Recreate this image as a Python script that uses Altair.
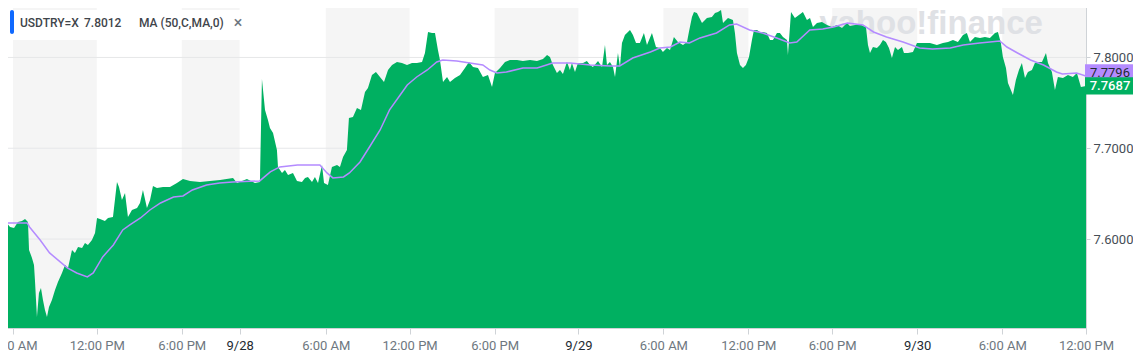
import altair as alt
import pandas as pd

# ---- data ----
area_bar = [0, 4.2, 8.5, 11.9, 15.2, 18.6, 21.2, 23.7, 24.6, 27.1, 28.8, 29.6, 31.3, 33.0, 34.7, 36.4, 38.1, 39.8,
            41.5, 44.0, 46.6, 49.1, 52.5, 55.1, 57.6, 61.0, 63.5, 66.1, 69.5, 72.0, 74.5, 77.9, 80.5, 82.2, 84.7,
            88.9, 91.5, 95.7, 99.1, 100.8, 103.3, 105.9, 108.4, 111.8, 116.1, 118.6, 121.1, 124.5, 127.1, 129.6,
            133.0, 138.1, 144.0, 149.9, 155.0, 161.0, 169.4, 177.9, 186.4, 197.4, 200.8, 209.2, 216.0, 220.2,
            221.9, 224.5, 227.0, 228.7, 231.3, 234.6, 235.5, 238.9, 241.4, 244.0, 248.2, 251.6, 255.8, 258.4,
            260.9, 264.3, 266.8, 269.4, 272.8, 274.5, 277.8, 281.2, 285.5, 288.0, 290.6, 293.9, 295.6, 299.0,
            302.4, 305.8, 309.2, 311.7, 315.1, 318.5, 321.9, 325.3, 328.7, 332.1, 336.3, 340.5, 344.8, 349.0,
            353.2, 357.5, 360.0, 362.6, 366.0, 368.5, 371.0, 372.7, 375.3, 378.7, 381.2, 385.4, 389.7, 393.9,
            397.3, 400.7, 404.9, 409.1, 413.4, 416.8, 419.3, 423.6, 427.8, 432.0, 438.0, 443.0, 449.0, 454.9,
            460.0, 463.4, 465.9, 468.4, 471.8, 474.4, 476.9, 480.3, 482.8, 484.5, 487.1, 489.6, 493.9, 497.2,
            499.8, 502.3, 506.6, 510.0, 512.5, 514.2, 516.7, 519.3, 521.0, 523.5, 525.2, 526.9, 529.4, 533.7,
            536.2, 538.8, 542.1, 545.5, 548.1, 552.3, 555.7, 559.1, 561.6, 565.0, 567.6, 570.9, 574.3, 578.6,
            582.0, 583.6, 586.2, 587.9, 590.4, 594.7, 598.9, 603.1, 605.7, 608.2, 610.8, 612.5, 616.7, 620.9,
            622.6, 624.3, 626.9, 629.4, 631.9, 634.5, 637.0, 638.7, 641.3, 643.8, 646.3, 649.7, 652.3, 654.8,
            658.2, 660.7, 663.3, 666.7, 667.5, 670.1, 673.4, 676.8, 680.2, 683.6, 686.2, 688.7, 692.1, 696.3,
            700.6, 704.8, 709.0, 713.3, 717.5, 720.0, 724.3, 728.5, 731.0, 733.6, 735.3, 737.0, 739.5, 742.9,
            745.4, 748.0, 750.5, 753.1, 755.6, 758.2, 760.7, 764.1, 765.8, 769.2, 773.4, 776.8, 781.9, 787.8,
            793.7, 798.8, 803.1, 807.3, 811.5, 815.8, 819.1, 821.7, 825.9, 830.2, 834.4, 838.6, 842.9, 845.4,
            847.9, 849.6, 852.2, 853.9, 858.1, 860.6, 863.2, 865.7, 868.3, 870.8, 874.2, 876.7, 879.3, 882.7,
            886.1, 887.8, 891.1, 893.7, 896.2, 900.5, 904.7, 908.9, 912.3, 915.7, 920.0]
area_price = [7.6188, 7.6199, 7.6133, 7.6122, 7.6188, 7.6199, 7.6221, 7.6188, 7.5880, 7.5792, 7.5715, 7.5549,
              7.5142, 7.5406, 7.5461, 7.5329, 7.5219, 7.5142, 7.5252, 7.5329, 7.5439, 7.5527, 7.5626, 7.5715,
              7.5682, 7.5880, 7.5847, 7.5913, 7.5902, 7.5957, 7.5935, 7.5990, 7.6067, 7.6232, 7.6221, 7.6199,
              7.6232, 7.6243, 7.6629, 7.6574, 7.6430, 7.6508, 7.6243, 7.6320, 7.6342, 7.6397, 7.6541, 7.6342,
              7.6430, 7.6585, 7.6563, 7.6574, 7.6574, 7.6618, 7.6662, 7.6640, 7.6629, 7.6640, 7.6651, 7.6673,
              7.6618, 7.6662, 7.6618, 7.6629, 7.7763, 7.7422, 7.7311, 7.7223, 7.7168, 7.6981, 7.6794, 7.6728,
              7.6761, 7.6706, 7.6728, 7.6640, 7.6629, 7.6673, 7.6684, 7.6629, 7.6684, 7.6618, 7.6816, 7.6618,
              7.6596, 7.6794, 7.6816, 7.6794, 7.6904, 7.6981, 7.7333, 7.7344, 7.7444, 7.7422, 7.7620, 7.7664,
              7.7807, 7.7840, 7.7785, 7.7730, 7.7862, 7.7917, 7.7950, 7.7939, 7.7917, 7.7939, 7.7939, 7.7950,
              7.8049, 7.8281, 7.8270, 7.8270, 7.8082, 7.7972, 7.7730, 7.7785, 7.7730, 7.7774, 7.7807, 7.7884,
              7.7950, 7.7895, 7.7884, 7.7785, 7.7807, 7.7675, 7.7829, 7.7884, 7.7950, 7.7972, 7.7972, 7.7961,
              7.7972, 7.7961, 7.7983, 7.8027, 7.8005, 7.7917, 7.7829, 7.7862, 7.7818, 7.7950, 7.7862, 7.7939,
              7.7840, 7.7939, 7.7939, 7.7961, 7.7917, 7.7895, 7.7961, 7.7895, 7.8137, 7.7917, 7.7950, 7.7895,
              7.7785, 7.8049, 7.7895, 7.8159, 7.8248, 7.8303, 7.8248, 7.8159, 7.8159, 7.8270, 7.8137, 7.8270,
              7.8115, 7.8104, 7.8060, 7.8104, 7.8082, 7.8226, 7.8170, 7.8137, 7.8170, 7.8281, 7.8446, 7.8501,
              7.8490, 7.8380, 7.8435, 7.8446, 7.8490, 7.8501, 7.8523, 7.8380, 7.8435, 7.8413, 7.8270, 7.8049,
              7.7917, 7.7884, 7.7917, 7.8005, 7.8193, 7.8303, 7.8303, 7.8281, 7.8281, 7.8270, 7.8193, 7.8193,
              7.8270, 7.8270, 7.8226, 7.8193, 7.8027, 7.8501, 7.8435, 7.8468, 7.8501, 7.8413, 7.8435, 7.8336,
              7.8380, 7.8391, 7.8358, 7.8336, 7.8358, 7.8325, 7.8380, 7.8347, 7.8358, 7.8369, 7.8347, 7.8336,
              7.8137, 7.8049, 7.8115, 7.8104, 7.8137, 7.8193, 7.8170, 7.8104, 7.7994, 7.8115, 7.8082, 7.8115,
              7.8049, 7.8049, 7.8060, 7.8159, 7.8159, 7.8159, 7.8137, 7.8159, 7.8170, 7.8193, 7.8170, 7.8248,
              7.8270, 7.8170, 7.8226, 7.8215, 7.8226, 7.8215, 7.8270, 7.8281, 7.8159, 7.8005, 7.7884, 7.7719,
              7.7587, 7.7752, 7.7862, 7.7939, 7.7774, 7.7840, 7.7862, 7.7939, 7.7950, 7.7950, 7.8049, 7.7939,
              7.7840, 7.7642, 7.7785, 7.7774, 7.7807, 7.7785, 7.7829, 7.7675, 7.7687]

ma_bar = [0, 23, 25, 34, 42, 51, 57, 65, 74, 79, 87, 96, 104, 110, 119, 127, 136, 147, 155, 163, 175, 186, 197,
          220, 226, 229, 237, 252, 271, 277, 282, 291, 296, 305, 313, 322, 330, 339, 345, 353, 362, 370, 375, 387,
          398, 409, 415, 421, 429, 443, 455, 463, 468, 483, 500, 517, 525, 536, 551, 559, 568, 576, 584, 593, 607,
          618, 624, 635, 646, 658, 669, 675, 686, 697, 706, 718, 731, 740, 751, 765, 779, 790, 805, 816, 830, 847,
          853, 862, 873, 884, 895, 900, 912, 920]
ma_price = [7.6177, 7.6177, 7.6133, 7.5990, 7.5847, 7.5748, 7.5682, 7.5626, 7.5582, 7.5626, 7.5803, 7.5935,
            7.6100, 7.6155, 7.6232, 7.6320, 7.6397, 7.6463, 7.6474, 7.6541, 7.6596, 7.6618, 7.6629, 7.6640,
            7.6706, 7.6739, 7.6794, 7.6816, 7.6816, 7.6728, 7.6673, 7.6684, 7.6728, 7.6849, 7.7014, 7.7201,
            7.7422, 7.7587, 7.7697, 7.7785, 7.7862, 7.7950, 7.7972, 7.7961, 7.7939, 7.7917, 7.7862, 7.7829,
            7.7840, 7.7884, 7.7884, 7.7917, 7.7939, 7.7939, 7.7917, 7.7906, 7.7906, 7.7994, 7.8060, 7.8104,
            7.8115, 7.8170, 7.8159, 7.8215, 7.8270, 7.8358, 7.8369, 7.8303, 7.8270, 7.8215, 7.8159, 7.8170,
            7.8303, 7.8314, 7.8336, 7.8380, 7.8358, 7.8281, 7.8226, 7.8170, 7.8104, 7.8093, 7.8104, 7.8137,
            7.8159, 7.8181, 7.8115, 7.8049, 7.7972, 7.7917, 7.7840, 7.7818, 7.7829, 7.7796]

band_start = [11, 154, 276, 419, 562, 705, 849]
band_end = [82, 203, 347, 490, 634, 777, 920]
tick_bars = [11, 82, 154, 203, 276, 347, 419, 490, 562, 634, 705, 777, 849, 920]
tick_labels = ["6:00 AM", "12:00 PM", "6:00 PM", "9/28", "6:00 AM", "12:00 PM", "6:00 PM", "9/29",
               "6:00 AM", "12:00 PM", "6:00 PM", "9/30", "6:00 AM", "12:00 PM"]
date_ticks = [203, 490, 777]
grid_levels = [7.6, 7.7, 7.8]
symbol = "USDTRY=X"
header_price = "7.8012"
ma_label = "MA (50,C,MA,0)"
last_price = 7.7687
last_ma = 7.7796
y_min, y_max = 7.502, 7.8633
x_max = 920

# ---- chart ----
W, H = 1086, 328
FONT = "Roboto"
GREEN = "#00b061"
PURPLE = "#b48bff"

x_scale = alt.Scale(domain=[0, x_max], nice=False, zero=False)
y_scale = alt.Scale(domain=[y_min, y_max], nice=False, zero=False)

area_df = pd.DataFrame({"bar": area_bar, "price": area_price})
ma_df = pd.DataFrame({"bar": ma_bar, "price": ma_price})
band_df = pd.DataFrame({"start": band_start, "end": band_end})
grid_df = pd.DataFrame({"level": grid_levels})
one = pd.DataFrame({"k": [0]})

label_expr = ("[" + ",".join(f"'{l}'" for l in tick_labels) + "][indexof(["
              + ",".join(str(t) for t in tick_bars) + "], datum.value)]")
date_test = "indexof([" + ",".join(str(t) for t in date_ticks) + "], datum.value) >= 0"

x_axis = alt.Axis(
    values=tick_bars, labelExpr=label_expr, title=None, grid=False,
    domainColor="#cfd3d7", tickColor="#cfd3d7", tickSize=6, labelPadding=5,
    labelFont=FONT, labelFontSize=13, labelOverlap=False, labelFlush=False,
    labelColor={"condition": {"test": date_test, "value": "#232a31"}, "value": "#6e7780"},
)
y_axis = alt.Axis(
    orient="right", values=grid_levels, format=".4f", title=None, grid=False,
    domainColor="#cfd3d7", tickColor="#cfd3d7", tickSize=4, labelPadding=3,
    labelFont=FONT, labelFontSize=13, labelColor="#464e56",
)

bands = alt.Chart(band_df).mark_rect(color="#f5f5f5").encode(
    x=alt.X("start:Q", scale=x_scale, axis=None),
    x2="end:Q",
    y=alt.value(0), y2=alt.value(H),
)

grid = alt.Chart(grid_df).mark_rule(color="#e6e7e9", strokeWidth=1).encode(
    y=alt.Y("level:Q", scale=y_scale, axis=None)
)

watermark = alt.Chart(one).mark_text(
    text="yahoo!finance", font="Liberation Sans", fontSize=33, fontWeight="bold",
    color="#dfe1e5", align="center", baseline="alphabetic"
).encode(x=alt.value(931), y=alt.value(34))

area = alt.Chart(area_df).mark_area(color=GREEN, clip=True, opacity=1).encode(
    x=alt.X("bar:Q", scale=x_scale, axis=x_axis),
    y=alt.Y("price:Q", scale=y_scale, axis=y_axis),
    y2=alt.Y2(datum=y_min),
)

ma = alt.Chart(ma_df).mark_line(color=PURPLE, strokeWidth=1.5, clip=True).encode(
    x=alt.X("bar:Q", scale=x_scale, axis=None),
    y=alt.Y("price:Q", scale=y_scale, axis=None),
)

legend_bg = alt.Chart(one).mark_rect(color="white").encode(
    x=alt.value(10), x2=alt.value(250), y=alt.value(10), y2=alt.value(40))
legend_bar = alt.Chart(one).mark_rect(color="#0f69ff", cornerRadius=2).encode(
    x=alt.value(10), x2=alt.value(14), y=alt.value(10), y2=alt.value(34))


def legend_text(txt, x, size=12, color="#3f454b", align="left"):
    return alt.Chart(one).mark_text(
        text=txt, font=FONT, fontSize=size, color=color, align=align, baseline="middle", fontWeight=500
    ).encode(x=alt.value(x), y=alt.value(23))


t1 = legend_text(symbol, 20)
t2 = legend_text(header_price, 84)
t3 = legend_text(ma_label, 139)
t4 = legend_text("\u00d7", 238, size=16, color="#6e7780", align="center")

BOX = "M-1,-0.36L1,-0.36L1,0.36L-1,0.36Z"
box_ma = alt.Chart(one).mark_point(shape=BOX, filled=True, size=48 * 48, opacity=1, color=PURPLE,
                                   strokeWidth=0, yOffset=-3).encode(
    x=alt.value(1109), y=alt.Y(datum=last_ma, scale=y_scale, axis=None))
txt_ma = alt.Chart(one).mark_text(text=f"{last_ma:.4f}", font=FONT, fontSize=13, color="#232a31",
                                  align="center", baseline="middle", yOffset=-3).encode(
    x=alt.value(1110), y=alt.Y(datum=last_ma, scale=y_scale, axis=None))
box_px = alt.Chart(one).mark_point(shape=BOX, filled=True, size=48 * 48, opacity=1, color=GREEN,
                                   strokeWidth=0).encode(
    x=alt.value(1109), y=alt.Y(datum=last_price, scale=y_scale, axis=None))
txt_px = alt.Chart(one).mark_text(text=f"{last_price:.4f}", font=FONT, fontSize=13, color="white",
                                  fontWeight=500, align="center", baseline="middle").encode(
    x=alt.value(1110), y=alt.Y(datum=last_price, scale=y_scale, axis=None))

chart = alt.layer(
    bands, grid, watermark, area, ma, legend_bg, legend_bar, t1, t2, t3, t4,
    box_ma, txt_ma, box_px, txt_px
).resolve_axis(x="independent", y="independent").properties(
    width=W, height=H,
    padding={"left": -8, "top": -8, "right": 47, "bottom": 24},
    autosize=alt.AutoSizeParams(type="none"),
).configure_view(stroke=None)

chart.save("out.html", embed_options={"renderer": "svg", "actions": False})
